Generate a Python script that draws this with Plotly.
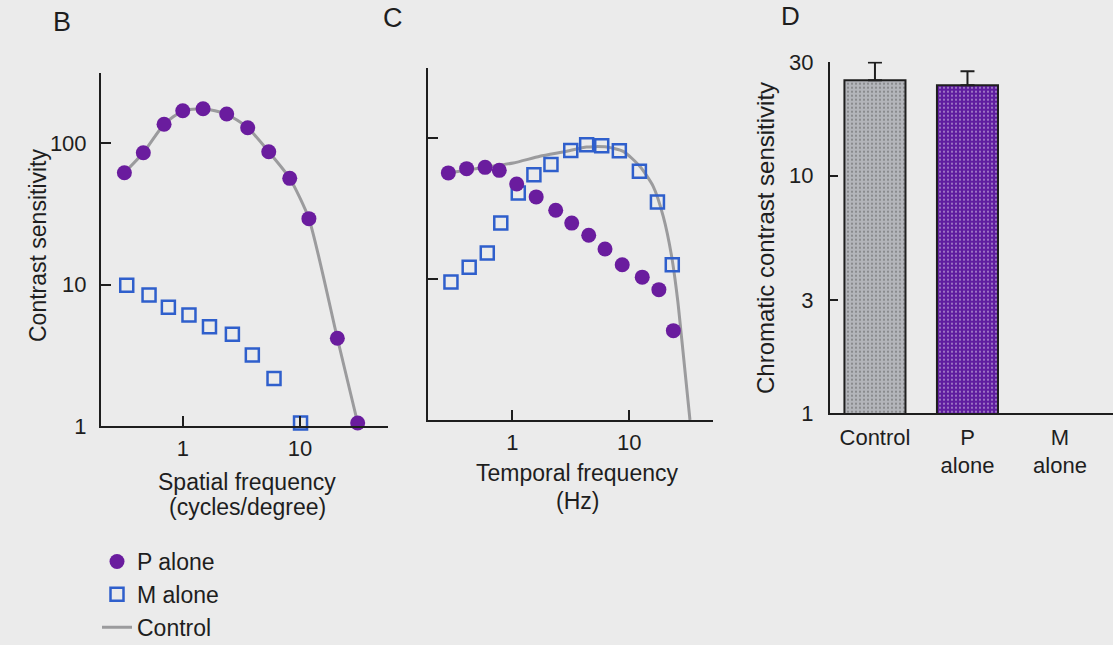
import plotly.graph_objects as go

# ---------------- data ----------------
# Panel B: contrast sensitivity vs spatial frequency (cycles/degree)
b_p_freq = [0.318, 0.461, 0.693, 1.0, 1.49, 2.37, 3.58, 5.41, 8.17, 11.9, 20.8, 31.0]
b_p_sens = [61.7, 85.4, 135.6, 169, 174.7, 160.3, 128.3, 86.8, 56.3, 29.2, 4.17, 1.05]
b_m_freq = [0.333, 0.516, 0.754, 1.13, 1.69, 2.65, 3.92, 6.0, 10.1]
b_m_sens = [9.9, 8.43, 6.9, 6.09, 5.03, 4.45, 3.17, 2.17, 1.05]
b_ctrl_freq = [0.318, 0.461, 0.693, 1.0, 1.49, 2.37, 3.58, 5.41, 8.17, 11.9, 20.8, 31.0]
b_ctrl_sens = [61.7, 85.4, 135.6, 169, 174.7, 160.3, 128.3, 86.8, 56.3, 29.2, 4.17, 1.05]

# Panel C: contrast sensitivity vs temporal frequency (Hz)
c_p_freq = [0.284, 0.407, 0.585, 0.774, 1.09, 1.6, 2.35, 3.22, 4.5, 6.2, 8.7, 12.9, 17.9, 23.8]
c_p_sens = [56.5, 60.6, 61.9, 58.9, 47.2, 38.2, 30.7, 24.9, 20.4, 16.3, 12.6, 10.3, 8.4, 4.3]
c_m_freq = [0.299, 0.428, 0.611, 0.797, 1.125, 1.53, 2.14, 3.16, 4.32, 5.81, 8.22, 12.2, 17.4, 23.3]
c_m_sens = [9.5, 12.1, 15.3, 24.9, 40.7, 54.9, 64.7, 81.6, 89.6, 88.2, 81.3, 58.0, 35.2, 12.6]
c_ctrl_freq = [0.284, 0.585, 1.02, 1.72, 2.92, 4.32, 6.41, 8.89, 12.3, 16.0, 19.5, 23.0, 25.9, 28.1, 33.0]
c_ctrl_sens = [56.5, 61.9, 66.5, 74.1, 80.4, 86.3, 86.3, 80.4, 62.9, 45.4, 27.8, 14.5, 7.1, 3.71, 1.0]

# Panel D: chromatic contrast sensitivity
d_groups = ["Control", "P<br>alone", "M<br>alone"]
d_values = [25.2, 24.0, None]
d_err_plus = [4.7, 3.5, 0]

# tick labels
b_y_ticks = [1, 10, 100, 312]
b_y_text = ["1", "10", "100", ""]
freq_ticks = [1, 10]
freq_text = ["1", "10"]
c_y_ticks = [10, 100, 312]
d_y_ticks = [1, 3, 10, 30]
d_y_text = ["1", "3", "10", "30"]

# ---------------- styling ----------------
W, H = 1113, 645
FONT = "Liberation Sans, Arial, sans-serif"
FS = 23          # titles, legend
TFS = 22         # tick labels
INK = "#1e1e1e"
PURPLE = "#6a1c9e"
BLUE = "#2f5fcc"
GREY_LINE = "#9b9b9d"
BG = "#ebebeb"


def px_x(p):
    return p / W


def px_y(p):
    return 1 - p / H


p_marker = dict(symbol="circle", size=15, color=PURPLE, line=dict(width=0))
m_marker = dict(symbol="square-open", size=13, color=BLUE, line=dict(width=2.5, color=BLUE))
ctrl_line = dict(color=GREY_LINE, width=3, shape="spline", smoothing=0.6)

fig = go.Figure()

# legend order: P alone, M alone, Control
fig.add_trace(go.Scatter(x=b_ctrl_freq, y=b_ctrl_sens, mode="lines", line=ctrl_line,
                         name="Control", legendrank=3, xaxis="x", yaxis="y", cliponaxis=False))
fig.add_trace(go.Scatter(x=b_m_freq, y=b_m_sens, mode="markers", marker=m_marker,
                         name="M alone", legendrank=2, xaxis="x", yaxis="y", cliponaxis=False))
fig.add_trace(go.Scatter(x=b_p_freq, y=b_p_sens, mode="markers", marker=p_marker,
                         name="P alone", legendrank=1, xaxis="x", yaxis="y", cliponaxis=False))

fig.add_trace(go.Scatter(x=c_ctrl_freq, y=c_ctrl_sens, mode="lines", line=ctrl_line,
                         showlegend=False, xaxis="x2", yaxis="y2", cliponaxis=False))
fig.add_trace(go.Scatter(x=c_m_freq, y=c_m_sens, mode="markers", marker=m_marker,
                         showlegend=False, xaxis="x2", yaxis="y2", cliponaxis=False))
fig.add_trace(go.Scatter(x=c_p_freq, y=c_p_sens, mode="markers", marker=p_marker,
                         showlegend=False, xaxis="x2", yaxis="y2", cliponaxis=False))

fig.add_trace(go.Bar(
    x=[0, 1, 2], y=d_values, width=0.66,
    marker=dict(color=["#b3b5ba", "#5f1d9f", "#ffffff"],
                line=dict(color=INK, width=2),
                pattern=dict(shape=".", fgcolor=["#cdced2", "#7a3abd", "#ffffff"],
                             size=4, solidity=0.2)),
    error_y=dict(type="data", symmetric=False, array=d_err_plus, arrayminus=[0, 0, 0],
                 color=INK, thickness=2, width=7),
    showlegend=False, xaxis="x3", yaxis="y3"))

axis_common = dict(showline=True, linecolor=INK, linewidth=2, showgrid=False, zeroline=False,
                   ticks="inside", tickcolor=INK, tickwidth=2,
                   tickfont=dict(family=FONT, size=TFS, color=INK))

fig.update_layout(
    width=W, height=H, margin=dict(l=0, r=0, t=0, b=0, autoexpand=False),
    paper_bgcolor=BG, plot_bgcolor="rgba(0,0,0,0)",
    font=dict(family=FONT, size=FS, color=INK),
    showlegend=True,
    legend=dict(x=px_x(97), y=px_y(540), xanchor="left", yanchor="top",
                bgcolor="rgba(0,0,0,0)", font=dict(family=FONT, size=FS, color=INK),
                itemwidth=30, tracegroupgap=0),
    xaxis=dict(axis_common, type="log", domain=[px_x(101), px_x(388)],
               range=[-0.697, 1.750], anchor="y", tickvals=freq_ticks, ticktext=freq_text,
               ticklen=10, ticklabelstandoff=2),
    yaxis=dict(axis_common, type="log", domain=[px_y(426), px_y(73)],
               range=[0, 2.495], anchor="x", tickvals=b_y_ticks, ticktext=b_y_text,
               ticklen=10, ticklabelstandoff=8),
    xaxis2=dict(axis_common, type="log", domain=[px_x(428), px_x(713)],
                range=[-0.7205, 1.7154], anchor="y2", tickvals=freq_ticks, ticktext=freq_text,
                ticklen=10, ticklabelstandoff=2),
    yaxis2=dict(axis_common, type="log", domain=[px_y(420), px_y(68)],
                range=[0, 2.496], anchor="x2", tickvals=c_y_ticks, showticklabels=False,
                ticklen=10),
    xaxis3=dict(axis_common, domain=[px_x(830), 1.0], range=[-0.486, 2.573], anchor="y3",
                tickvals=[0, 1, 2], ticktext=d_groups, ticks="", ticklabelstandoff=3),
    yaxis3=dict(axis_common, type="log", domain=[px_y(413.3), px_y(61.7)],
                range=[0, 1.479], anchor="x3", tickvals=d_y_ticks, ticktext=d_y_text,
                ticklen=8, ticklabelstandoff=10),
)

# panel letters and axis titles
notes = [
    dict(text="B", x=62, y=22, size=27),
    dict(text="C", x=393, y=18, size=27),
    dict(text="D", x=790, y=16, size=26),
    dict(text="Spatial frequency", x=247, y=482, size=FS),
    dict(text="(cycles/degree)", x=247, y=507, size=FS),
    dict(text="Temporal frequency", x=577, y=473, size=FS),
    dict(text="(Hz)", x=577, y=501, size=FS),
]
for n in notes:
    fig.add_annotation(text=n["text"], x=px_x(n["x"]), y=px_y(n["y"]), xref="paper", yref="paper",
                       xanchor="center", yanchor="middle", showarrow=False,
                       font=dict(family=FONT, size=n["size"], color=INK))

fig.add_annotation(text="Contrast sensitivity", x=px_x(38), y=px_y(245), xref="paper", yref="paper",
                   textangle=-90, xanchor="center", yanchor="middle", showarrow=False,
                   font=dict(family=FONT, size=FS, color=INK))
fig.add_annotation(text="Chromatic contrast sensitivity", x=px_x(765), y=px_y(238), xref="paper",
                   yref="paper", textangle=-90, xanchor="center", yanchor="middle", showarrow=False,
                   font=dict(family=FONT, size=24, color=INK))

fig.write_html("out.html")
